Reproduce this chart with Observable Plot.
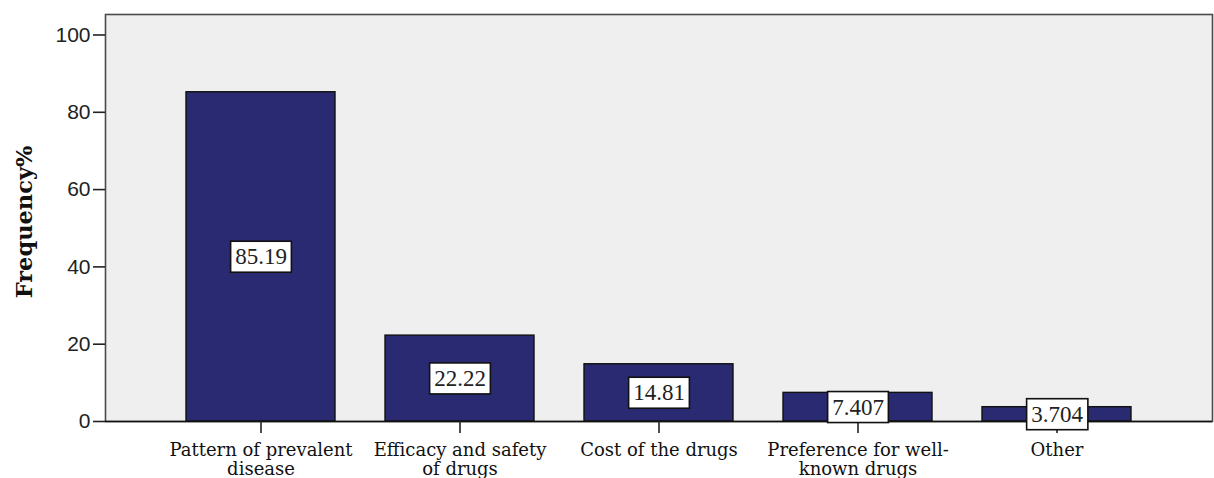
<!DOCTYPE html>
<html>
<head>
<meta charset="utf-8">
<script src="https://cdn.jsdelivr.net/npm/d3@7"></script>
<script src="https://cdn.jsdelivr.net/npm/@observablehq/plot@0.6"></script>
<style>
  html, body { margin: 0; padding: 0; background: #ffffff; }
  #chart svg { display: block; }
</style>
</head>
<body>
<div id="chart"></div>
<script>
// Reasons for drug selection, percentage of respondents
const categories = [
  "Pattern of prevalent\ndisease",
  "Efficacy and safety\nof drugs",
  "Cost of the drugs",
  "Preference for well-\nknown drugs",
  "Other"
];
const frequency = [85.19, 22.22, 14.81, 7.407, 3.704];
const yTicks = [0, 20, 40, 60, 80, 100];
const yTitle = "Frequency%";

const rows = categories.map((c, i) => ({category: c, value: frequency[i]}));
const fmt = d3.format(".4");

const chart = Plot.plot({
  width: 1214,
  height: 478,
  marginLeft: 105,
  marginRight: 2,
  marginTop: 14,
  marginBottom: 57,
  style: {background: "#ffffff", overflow: "visible"},
  x: {domain: categories, paddingInner: 0.25, paddingOuter: 0.4, label: null},
  y: {domain: [0, 105.3], label: null},
  marks: [
    Plot.frame({fill: "#efefef", stroke: "#4a4a4a", strokeWidth: 1.6}),
    Plot.barY(rows, {x: "category", y: "value", fill: "#292a72", stroke: "#111", strokeWidth: 1.4}),
    Plot.ruleY([0], {stroke: "#111", strokeWidth: 1.6}),
    Plot.axisY({
      ticks: yTicks, tickSize: 12, tickPadding: 3, tickFormat: d3.format("d"),
      stroke: "#222", strokeWidth: 1.6, fill: "#222",
      fontSize: 21, fontFamily: "Liberation Sans, Arial, sans-serif", label: null
    }),
    Plot.axisX({
      tickSize: 12, tickPadding: 8, stroke: "#222", strokeWidth: 1.6, fill: "#111",
      fontSize: 18, fontFamily: "DejaVu Serif, serif", lineHeight: 1.1, label: null
    }),
    Plot.text([yTitle], {
      frameAnchor: "left", textAnchor: "middle", rotate: -90, dx: -81, dy: 4,
      fontSize: 22.5, fontWeight: "bold", fontFamily: "DejaVu Serif, serif", fill: "#111"
    }),
    Plot.text(rows, {
      x: "category", y: d => d.value / 2, text: d => fmt(d.value),
      fontSize: 23, fontFamily: "Liberation Serif, Times New Roman, serif", fill: "#222",
      ariaDescription: "values"
    })
  ]
});

document.getElementById("chart").append(chart);

// White boxes behind the value labels, sized from each label's own extent
const ns = "http://www.w3.org/2000/svg";
chart.querySelectorAll('g[aria-description="values"] text').forEach(t => {
  const b = t.getBBox();
  const r = document.createElementNS(ns, "rect");
  const padX = 4.5, padY = 3;
  r.setAttribute("x", b.x - padX);
  r.setAttribute("y", b.y - padY);
  r.setAttribute("width", b.width + 2 * padX);
  r.setAttribute("height", b.height + 2 * padY);
  r.setAttribute("fill", "#ffffff");
  r.setAttribute("stroke", "#111");
  r.setAttribute("stroke-width", 1.6);
  const tr = t.getAttribute("transform");
  if (tr) r.setAttribute("transform", tr);
  t.parentNode.insertBefore(r, t);
});
</script>
</body>
</html>
